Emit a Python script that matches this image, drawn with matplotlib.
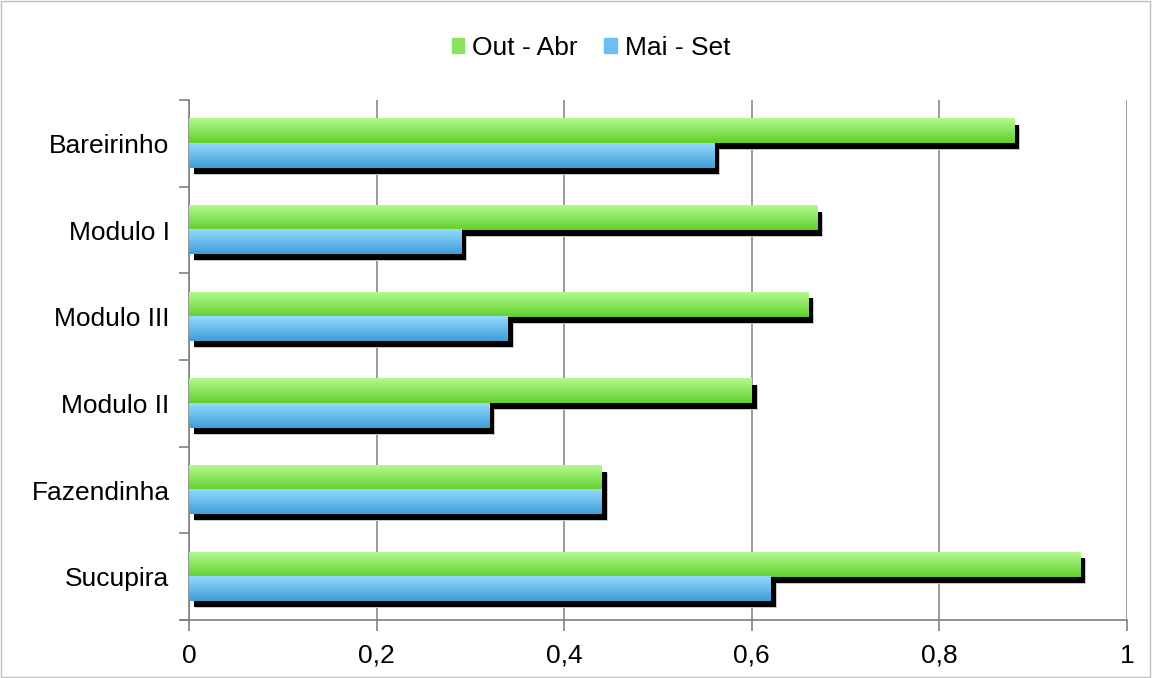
import numpy as np
import matplotlib
matplotlib.use("Agg")
import matplotlib.pyplot as plt
from matplotlib.patches import Rectangle
from matplotlib.colors import LinearSegmentedColormap
from matplotlib.ticker import FuncFormatter, FixedLocator

categories = ["Sucupira", "Fazendinha", "Modulo II", "Modulo III", "Modulo I", "Bareirinho"]
out_abr = [0.95, 0.44, 0.60, 0.66, 0.67, 0.88]
mai_set = [0.62, 0.44, 0.32, 0.34, 0.29, 0.56]
series_names = ["Out - Abr", "Mai - Set"]

plt.rcParams['font.family'] = ['Liberation Sans', 'DejaVu Sans']
FS = 19

fig = plt.figure(figsize=(11.52, 6.78), dpi=100)
ax = fig.add_axes([189/1152, 1-620/678, (1127-189)/1152, 520/678])

green_cmap = LinearSegmentedColormap.from_list("g", ["#b2f98e", "#62cf2c"])
blue_cmap = LinearSegmentedColormap.from_list("b", ["#94dafe", "#3d9ed9"])

n = len(categories)
y = np.arange(n)
h = 0.28
px_x = 1.0 / 938
px_y = n / 520

def draw_series(vals, ypos, cmap, z):
    bars = ax.barh(ypos, vals, height=h, color="none", zorder=z)
    for b in bars:
        x0, y0 = b.get_x(), b.get_y()
        w, hh = b.get_width(), b.get_height()
        ax.add_patch(Rectangle((x0 + 6*px_x, y0 - 7*px_y), w, hh, color="#c8c8c8", zorder=z-0.3, lw=0))
        ax.add_patch(Rectangle((x0 + 5*px_x, y0 - 6*px_y), w, hh, color="black", zorder=z-0.2, lw=0))
        grad = np.linspace(1, 0, 64).reshape(-1, 1)
        ax.imshow(grad, cmap=cmap, aspect="auto", extent=(x0, x0 + w, y0, y0 + hh),
                  origin="lower", zorder=z, interpolation="bilinear")
    return bars

draw_series(out_abr, y + h/2, green_cmap, 3)
draw_series(mai_set, y - h/2, blue_cmap, 4)

ax.set_xlim(0, 1)
ax.set_ylim(-0.5, n - 0.5)
ax.set_yticks(y)
ax.set_yticklabels(categories, fontsize=FS)
ax.yaxis.set_minor_locator(FixedLocator(np.arange(-0.5, n, 1.0)))
ax.tick_params(axis="y", which="major", length=0, pad=14)
ax.tick_params(axis="y", which="minor", length=7, color="#808080", width=1.2)
ax.set_xticks(np.arange(0, 1.01, 0.2))
ax.xaxis.set_major_formatter(FuncFormatter(lambda v, p: ("%g" % round(v, 1)).replace(".", ",")))
ax.tick_params(axis="x", length=8, color="#808080", width=1.2, labelsize=FS, pad=9)
ax.grid(axis="x", color="#808080", lw=1.1, zorder=0)
ax.set_axisbelow(True)
for s in ["top", "right"]:
    ax.spines[s].set_visible(False)
for s in ["left", "bottom"]:
    ax.spines[s].set_color("#808080")
    ax.spines[s].set_linewidth(1.2)
ax.spines["bottom"].set_bounds(-0.009, 1)

handles = [Rectangle((0, 0), 1, 1, color="#8ee260"), Rectangle((0, 0), 1, 1, color="#6cbff0")]
fig.legend(handles, series_names, loc="center", bbox_to_anchor=(591/1152, 1-48/678), ncol=2,
           frameon=False, fontsize=FS, handlelength=0.47, handleheight=0.47,
           handletextpad=0.3, columnspacing=1.0)

fig.patches.append(Rectangle((0.001, 0.002), 0.997, 0.996, transform=fig.transFigure,
                             fill=False, edgecolor="#bfbfbf", lw=1))

fig.savefig("out.png", dpi=100)
